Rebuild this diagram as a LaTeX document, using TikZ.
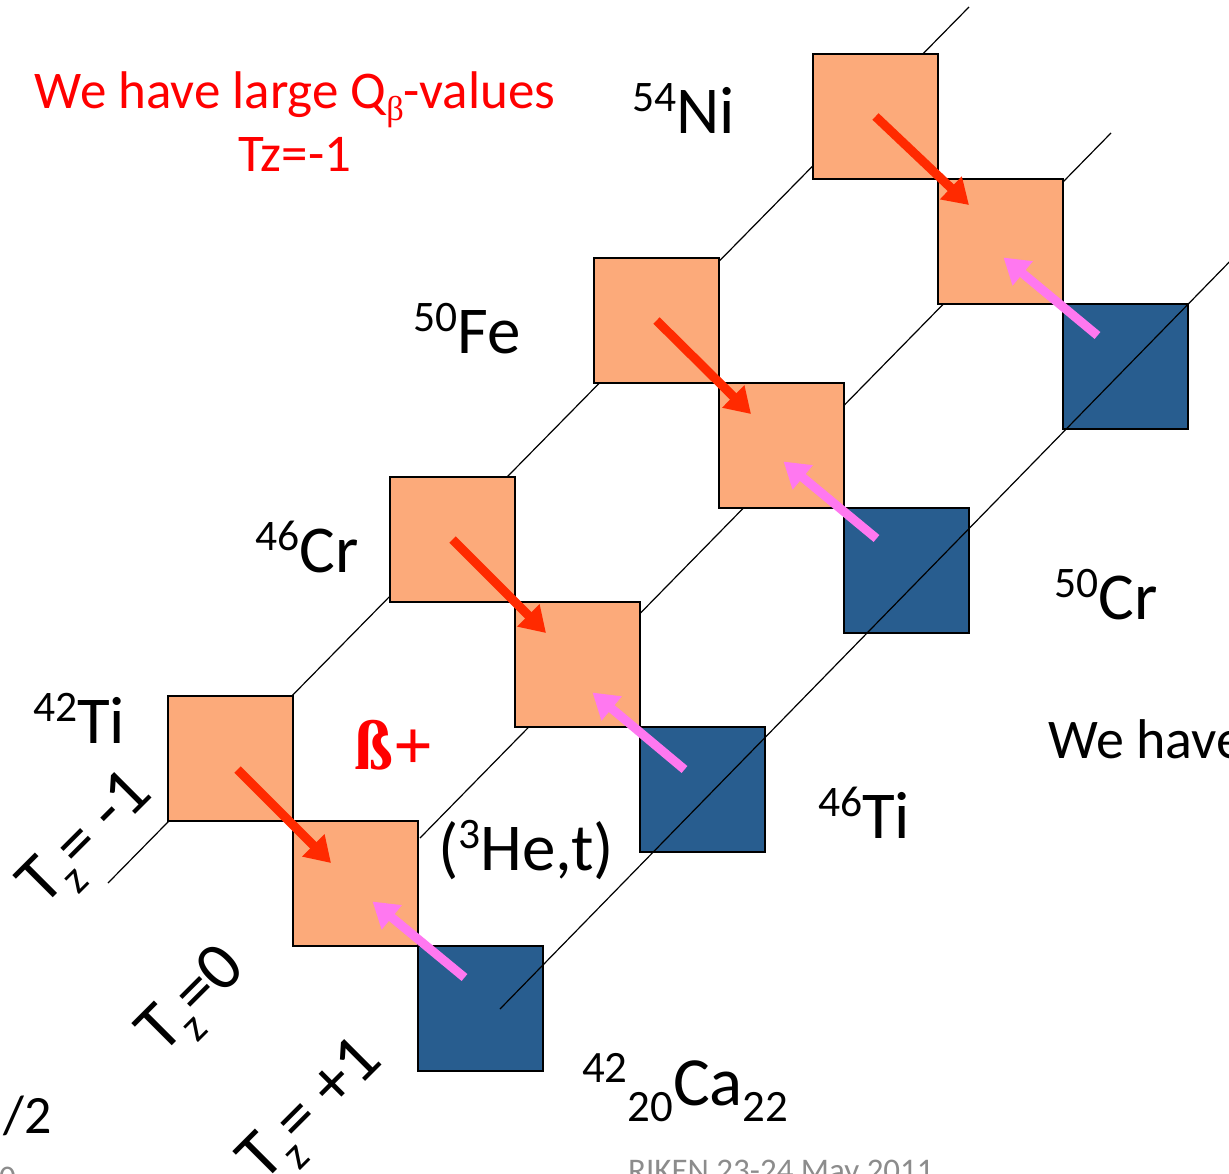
\documentclass[tikz,border=0pt]{standalone}
\usepackage{graphicx}
\usepackage{fontspec}
\setmainfont{Carlito}
\newfontfamily\timesfont{Liberation Serif}
\definecolor{nucorange}{HTML}{FCAA7A}
\definecolor{nucblue}{HTML}{285D8F}
\definecolor{bpred}{HTML}{FF2A00}
\definecolor{hepink}{HTML}{FF78F0}
\definecolor{footgray}{HTML}{8C8C8C}
\usetikzlibrary{arrows.meta,positioning,calc}
\newcommand{\up}[1]{\raisebox{0.32em}{\scalebox{0.65}{#1}}}
\newcommand{\dn}[1]{\raisebox{-0.24em}{\scalebox{0.65}{#1}}}

\begin{document}
\begin{tikzpicture}[x=1bp,y=-1bp,
  prot/.style={draw=black,line width=1.6bp,fill=nucorange,minimum size=125bp,
    inner sep=0pt,outer sep=0pt,anchor=north west},
  neut/.style={prot,fill=nucblue},
  iso/.style={black,line width=1.2bp},
  lab/.style={font=\fontsize{67bp}{70bp}\selectfont,inner sep=0pt,anchor=base west},
  tz/.style={font=\fontsize{69bp}{72bp}\selectfont,inner sep=0pt,rotate=45},
  foot/.style={font=\fontsize{33bp}{36bp}\selectfont,text=footgray,inner sep=0pt,anchor=base west},
  bp/.style={-{Triangle[length=25bp,width=30bp]},line width=9bp,bpred},
  he/.style={-{Triangle[length=25bp,width=30bp]},line width=9bp,hepink}]
  \useasboundingbox (0,0) rectangle (1229,1174);
  \clip (0,0) rectangle (1229,1174);

  % isospin lines
  \coordinate (m0) at (108,883);  \coordinate (m1) at (969,7);
  \coordinate (z0) at (420,838);  \coordinate (z1) at (1111,133);
  \coordinate (p0) at (500,1009); \coordinate (p1) at (1240,251);
  \draw[iso] (m0) -- (m1);
  \draw[iso] (z0) -- (z1);

  % A = 42, 46, 50, 54
  \node[prot] (ti42) at (168,696) {};
  \node[prot] (sc42) at (ti42.south east) {};
  \node[neut] (ca42) at (sc42.south east) {};
  \node[prot] (cr46) at (390,477) {};
  \node[prot] (v46) at (cr46.south east) {};
  \node[neut] (ti46) at (v46.south east) {};
  \node[prot] (fe50) at (594,258) {};
  \node[prot] (mn50) at (fe50.south east) {};
  \node[neut] (cr50) at (mn50.south east) {};
  \node[prot] (ni54) at (813,54) {};
  \node[prot] (co54) at (ni54.south east) {};
  \node[neut] (fe54) at (co54.south east) {};
  \draw[iso] (p0) -- (p1);

  \draw[bp] ($(ti42.center)+(7,11)$) -- ($(sc42.north west)+(38,42)$);
  \draw[bp] (cr46.center) -- ($(v46.north west)+(31,31)$);
  \draw[bp] (fe50.center) -- ($(mn50.north west)+(32,31)$);
  \draw[bp] (ni54.center) -- ($(co54.north west)+(31,26)$);
  \draw[he] ($(ca42.center)+(-16,-31)$) -- ($(sc42.center)+(17,18)$);
  \draw[he] ($(ti46.center)+(-18,-20)$) -- ($(v46.center)+(15,28)$);
  \draw[he] ($(cr50.center)+(-30,-32)$) -- ($(mn50.center)+(2,16)$);
  \draw[he] ($(fe54.center)+(-28,-31)$) -- ($(co54.center)+(3,16)$);

  \node[lab] (lti42) at (33,743) {\up{42}Ti};
  \node[lab] (lcr46) at (255,572) {\up{46}Cr};
  \node[lab] (lfe50) at (413,353) {\up{50}Fe};
  \node[lab] (lni54) at (632,133) {\up{54}Ni};
  \node[lab] (lti46) at (818,838) {\up{46}Ti};
  \node[lab] (lcr50) at (1054,619) {\up{50}Cr};
  \node[lab,font=\fontsize{69bp}{72bp}\selectfont] (lca42) at (582,1105) {\up{42}\dn{20}Ca\dn{22}};
  \node[lab] (lhet) at (438,870) {(\up{3}He,t)};
  \node[lab,text=red,font=\fontsize{70bp}{72bp}\selectfont\timesfont\bfseries] (lbp) at (354,769) {ß+};
  \node[lab,font=\fontsize{56bp}{60bp}\selectfont] (lhave) at (1048,758) {We have};

  \node[font=\fontsize{53bp}{60bp}\selectfont,text=red,inner sep=0pt,anchor=base] (qb) at (295,108)
    {We have large Q\dn{\timesfont β}-values};
  \node[font=\fontsize{53bp}{60bp}\selectfont,text=red,inner sep=0pt,anchor=base] (qtz) at (295,171) {Tz=-1};

  \node[tz] (tzm) at (89,842) {T\dn{z}= -1};
  \node[tz] (tz0) at (195,1003) {T\dn{z}=0};
  \node[tz] (tzp) at (314,1113) {T\dn{z}= +1};

  \node[lab,font=\fontsize{54bp}{58bp}\selectfont] (half) at (3,1133) {/2};
  \node[foot] (pg) at (-1,1188) {0};
  \node[foot] (riken) at (628,1181) {RIKEN 23-24 May 2011};
\end{tikzpicture}
\end{document}
